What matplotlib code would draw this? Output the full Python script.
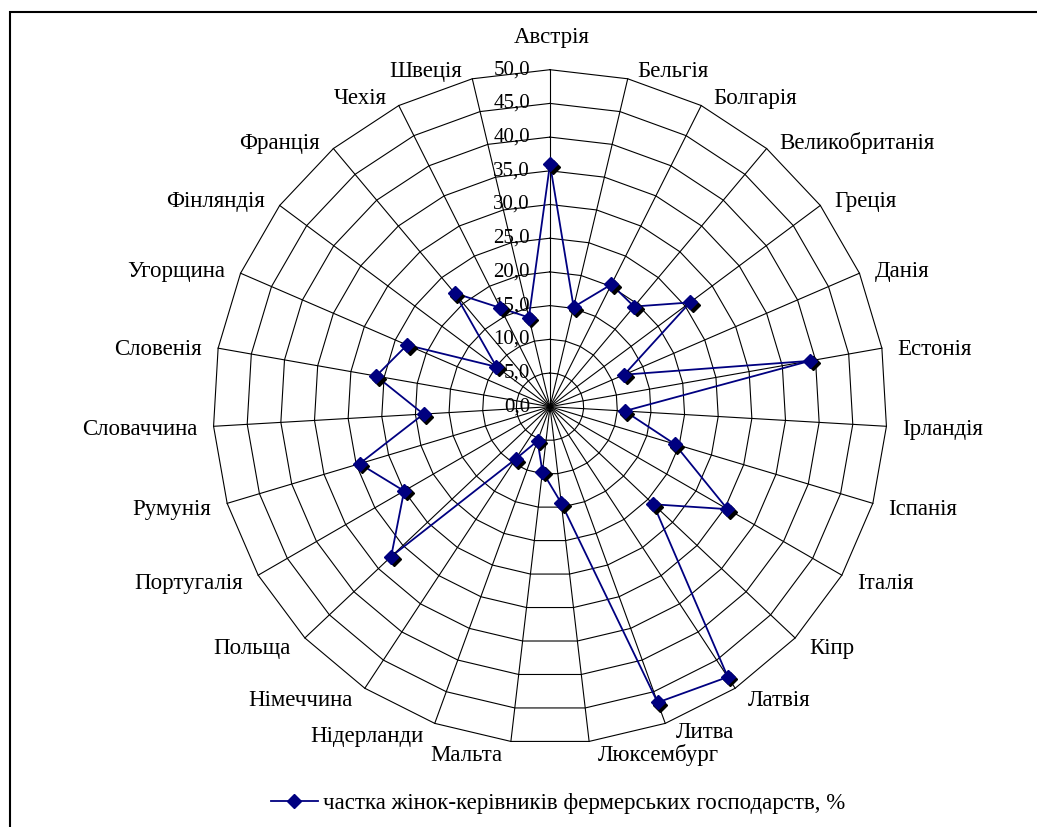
#!/usr/bin/env python3
"""Radar chart: share of women farm managers in EU countries, %."""

import numpy as np
import matplotlib
matplotlib.use("Agg")
import matplotlib.pyplot as plt
import matplotlib.patches as mpatches
import matplotlib.transforms as mtransforms
from matplotlib.lines import Line2D

plt.rcParams["font.family"] = ["Liberation Serif", "DejaVu Serif"]

countries = ["Австрія", "Бельгія", "Болгарія", "Великобританія", "Греція",
             "Данія", "Естонія", "Ірландія", "Іспанія", "Італія", "Кіпр",
             "Латвія", "Литва", "Люксембург", "Мальта", "Нідерланди",
             "Німеччина", "Польща", "Португалія", "Румунія", "Словаччина",
             "Словенія", "Угорщина", "Фінляндія", "Франція", "Чехія",
             "Швеція"]
share = [36.0, 15.2, 20.3, 19.4, 25.9, 12.0, 39.2, 11.1, 19.3, 30.4, 21.1,
         48.0, 46.7, 14.4, 9.7, 5.4, 9.3, 32.4, 25.0, 29.5, 18.8, 26.2,
         23.1, 9.9, 22.0, 16.4, 13.6]
ring_values = [0, 5, 10, 15, 20, 25, 30, 35, 40, 45, 50]
ring_labels = ["0,0", "5,0", "10,0", "15,0", "20,0", "25,0", "30,0",
               "35,0", "40,0", "45,0", "50,0"]
series_name = "частка жінок-керівників фермерських господарств, %"

NAVY = "#000080"
FS_TICK = 15
FS_LABEL = 16.5

W, H = 1037, 827
cx, cy = 550, 406.7          # centre in pixels
k = 337 / 50                 # pixels per unit

fig = plt.figure(figsize=(W / 100, H / 100), dpi=100)
ax = fig.add_axes([0, 0, 1, 1])
ax.set_xlim(-cx / k, (W - cx) / k)
ax.set_ylim(-(H - cy) / k, cy / k)
ax.axis("off")

n = len(countries)
theta = np.arange(n) * 2 * np.pi / n
sx, sy = np.sin(theta), np.cos(theta)
rmax = ring_values[-1]

# polygon rings
for r in ring_values[1:]:
    ax.plot(np.append(r * sx, r * sx[0]), np.append(r * sy, r * sy[0]),
            color="black", lw=0.8, zorder=1)
# spokes
for i in range(n):
    ax.plot([0, rmax * sx[i]], [0, rmax * sy[i]], color="black", lw=0.8,
            zorder=1)

# ring value labels
for r, lab in zip(ring_values, ring_labels):
    ax.annotate(lab, (0, r), xytext=(-20, 0), textcoords="offset pixels",
                ha="right", va="center", fontsize=FS_TICK, zorder=2)

# category labels
for i, name in enumerate(countries):
    s, c = sx[i], sy[i]
    if abs(s) < 0.05:
        ha = "center"
        dx, dy = 2, (32 if c > 0 else -32)
    else:
        ha = "left" if s > 0 else "right"
        dx = np.sign(s) * (8 + 8 * abs(s))
        dy = c * 11 - 3
    if name == "Литва":        # keep clear of Люксембург below it
        dy += 4
    ax.annotate(name, (rmax * s, rmax * c), xytext=(dx, dy),
                textcoords="offset pixels", ha=ha, va="center",
                fontsize=FS_LABEL)

# data series with drop shadow
vals = np.array(share)
px = np.append(vals * sx, vals[0] * sx[0])
py = np.append(vals * sy, vals[0] * sy[0])
ax.plot(px, py, color=NAVY, lw=1.3, zorder=3)
shadow = mtransforms.offset_copy(ax.transData, fig=fig, x=2.5, y=-2.5,
                                 units="dots")
ax.plot(vals * sx, vals * sy, ls="none", marker="D", ms=7.5, color="black",
        transform=shadow, zorder=4)
ax.plot(vals * sx, vals * sy, ls="none", marker="D", ms=7.5, color=NAVY,
        mec=NAVY, zorder=5)

# legend
handle = Line2D([], [], color=NAVY, lw=1.3, marker="D", ms=7.5)
fig.legend([handle], [series_name], loc="center",
           bbox_to_anchor=(558 / W, 1 - 803 / H), frameon=False,
           fontsize=FS_LABEL, handlelength=2.05, handletextpad=0.25)

# chart border (top and left visible)
border = mpatches.Rectangle((9.5 / W, -0.1), 1.2, (H - 11.5) / H + 0.1,
                            transform=fig.transFigure, fill=False,
                            ec="black", lw=1.5)
fig.patches.append(border)

fig.savefig("out.png", dpi=100)
